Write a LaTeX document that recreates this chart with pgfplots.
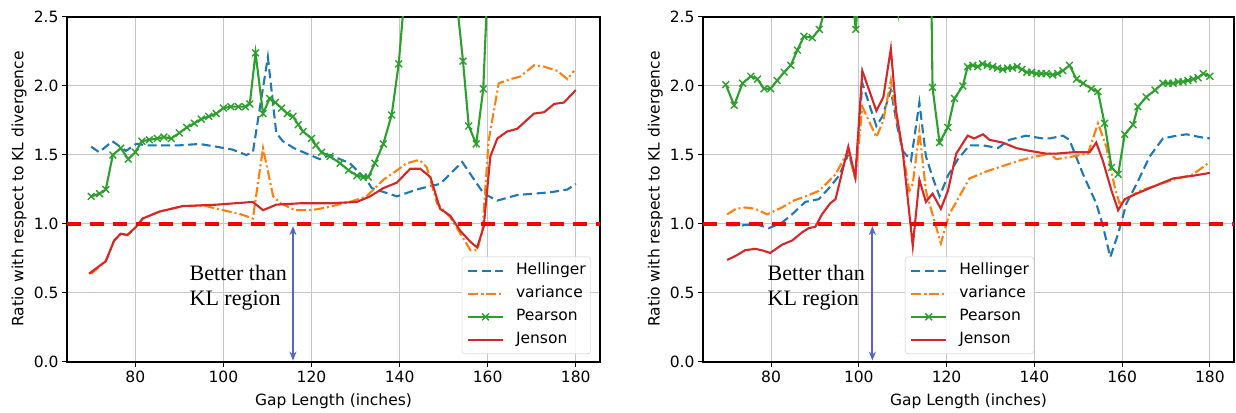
\documentclass[border=0pt]{standalone}
\usepackage{pgfplots}
\pgfplotsset{compat=1.18}
\usepackage{fontspec}
\setmainfont{DejaVu Sans}
\newfontfamily\timesfont{Liberation Serif}
\usetikzlibrary{arrows.meta}
\definecolor{tabblue}{HTML}{1F77B4}
\definecolor{taborange}{HTML}{FF7F0E}
\definecolor{tabgreen}{HTML}{2CA02C}
\definecolor{tabred}{HTML}{D62728}
\definecolor{arrowblue}{RGB}{85,100,200}
\tikzset{
  dbl/.style={<->, >={Stealth[length=9bp,width=7bp]}, color=arrowblue, line width=2bp},
  bt/.style={anchor=base west, inner sep=0bp, font=\timesfont\fontsize{22bp}{25bp}\selectfont},
}
\pgfplotsset{
  myaxis/.style={
    scale only axis, height=345bp,
    xmin=64.5, xmax=185.5, ymin=0, ymax=2.5,
    xtick={80,100,120,140,160,180},
    xticklabels={80,100,120,140,160,180},
    ytick={0,0.5,1,1.5,2,2.5},
    yticklabels={0.0,0.5,1.0,1.5,2.0,2.5},
    tick pos=left, tick align=outside,
    major tick length=5bp,
    tick style={black, line width=1bp},
    grid=major,
    major grid style={gray!45, line width=1bp},
    axis line style={black, line width=1.2bp},
    ticklabel style={font=\fontsize{15.5bp}{18bp}\selectfont},
    clip marker paths=true,
    legend cell align=left,
    legend style={font=\fontsize{15.5bp}{18bp}\selectfont,
      draw=gray!45, rounded corners=3bp, fill=white, fill opacity=0.85, text opacity=1,
      inner xsep=5bp, inner ysep=6bp, row sep=7bp, column sep=12bp,
      nodes={inner sep=0bp, text height=12bp, text depth=4bp}},
    legend image code/.code={\draw[mark repeat=2, mark phase=2, #1] plot coordinates {(0bp,0bp) (17.5bp,0bp) (35bp,0bp)};},
  },
  hell/.style={tabblue, line width=2.1bp, dash pattern=on 9bp off 4.5bp},
  var/.style={taborange, line width=2.1bp, dash pattern=on 10bp off 3bp on 2bp off 3bp},
  pear/.style={tabgreen, line width=2.1bp, mark=x, mark size=4.8bp, mark options={solid, line width=1.4bp}},
  jen/.style={tabred, line width=2.1bp},
  kl/.style={red, line width=3.8bp, dash pattern=on 14bp off 9bp},
}
\begin{document}
\begin{tikzpicture}
\useasboundingbox (-67bp,-51bp) rectangle (1169bp,362bp);
% ---------------- left panel ----------------
\begin{axis}[myaxis, width=533bp, at={(0bp,0bp)}, anchor=south west,
  legend style={at={(0.983,0.023)}, anchor=south east}]
\addplot[hell] coordinates {
(70,1.56) (71.8,1.52) (74.8,1.60) (77.9,1.53) (80.2,1.58) (83,1.57) (86,1.57)
(90,1.57) (94.6,1.58) (98.4,1.56) (102,1.54) (105.2,1.50) (106.7,1.52) (110.1,2.21)
(112,1.66) (113.5,1.60) (116,1.55) (118.9,1.51) (121.9,1.47) (124.2,1.50) (128.7,1.44)
(132.5,1.32) (133.7,1.26) (139.4,1.20) (143.9,1.25) (147.7,1.28) (149.2,1.29)
(154.2,1.45) (159.1,1.22) (162.2,1.17) (166.7,1.21) (174.3,1.23) (178.1,1.25) (180,1.29)};
\addlegendentry{Hellinger}
\addplot[var] coordinates {
(70,0.64) (73.3,0.73) (75.2,0.88) (76.7,0.93) (78.2,0.92) (80.2,0.98) (81.7,1.04)
(85.5,1.09) (90.8,1.13) (96,1.13) (100,1.10) (104,1.07) (106.7,1.04) (109,1.55)
(111.3,1.20) (113,1.15) (115,1.12) (116.2,1.10) (120,1.10) (123.4,1.12) (128.7,1.16)
(132.5,1.20) (136.3,1.32) (139,1.38) (141.6,1.44) (143.9,1.46) (144.7,1.46) (146.2,1.41)
(148.5,1.15) (151.5,1.05) (153.8,0.93) (156.1,0.81) (157.6,0.81) (158.8,0.95) (160.2,1.60)
(162.5,2.02) (165.2,2.05) (167.5,2.07) (170.5,2.15) (172.8,2.14) (175.8,2.11) (178.1,2.05) (179.6,2.11)};
\addlegendentry{variance}
\addplot[pear] coordinates {
(70,1.20) (71.9,1.22) (73.3,1.25) (74.9,1.50) (76.7,1.55) (78.4,1.47) (80,1.52)
(81.5,1.60) (83.2,1.61) (85,1.62) (86.5,1.63) (88.2,1.62) (90,1.66) (91.7,1.70)
(93.4,1.73) (95,1.76) (96.7,1.78) (98.4,1.80) (100,1.84) (101.7,1.85) (103.4,1.85)
(105,1.85) (106,1.87) (107.3,2.24) (109,1.80) (110.5,1.91) (111.8,1.88) (113.2,1.84)
(114.5,1.80) (115.8,1.78) (117,1.72) (118.1,1.67) (120,1.62) (121,1.57) (122.3,1.52)
(124.2,1.49) (126.5,1.44) (128.4,1.39) (130.3,1.35) (131.8,1.34) (132.9,1.34)
(134.4,1.44) (136.3,1.58) (138.2,1.79) (139.8,2.16) (141.5,2.8) (143.2,3.3) (145,3.6)
(147,3.7) (149,3.6) (151,3.3) (152.7,2.7) (154.4,2.18) (155.7,1.71) (157.4,1.58)
(159,1.98) (160.6,3.2) (162.3,3.6) (165,3.8) (170,3.9) (175,3.9) (180,3.9)};
\addlegendentry{Pearson}
\addplot[jen] coordinates {
(69.5,0.64) (73.3,0.73) (75.2,0.88) (76.7,0.93) (78.2,0.92) (80.2,0.98) (81.7,1.04)
(85.5,1.09) (90.8,1.13) (98.4,1.14) (106.7,1.16) (109,1.10) (112,1.14) (117.4,1.15)
(124,1.15) (130.3,1.16) (133.3,1.20) (136.3,1.26) (139.4,1.30) (142.4,1.40) (144.7,1.40)
(147,1.34) (149.2,1.11) (151.5,1.06) (153.8,0.95) (156.1,0.87) (157.6,0.83) (159.1,0.98)
(160.6,1.49) (162.2,1.62) (164.4,1.67) (166.7,1.69) (170.5,1.80) (172.8,1.81)
(175.1,1.87) (177.3,1.88) (180,1.97)};
\addlegendentry{Jenson}
\addplot[kl, forget plot] coordinates {(64.5,1) (185.5,1)};
\draw[dbl] (axis cs:115.8,0.985) -- (axis cs:115.8,0.01);
\node[bt] at (axis cs:92.3,0.594) {Better than};
\node[bt] at (axis cs:92.3,0.413) {KL region};
\end{axis}
% ---------------- right panel ----------------
\begin{axis}[myaxis, width=531bp, at={(636bp,0bp)}, anchor=south west,
  legend style={at={(0.502,0.023)}, anchor=south}]
\addplot[hell] coordinates {
(70.3,0.99) (73.4,0.99) (76.4,1.00) (79.5,0.97) (82.5,1.01) (84.8,1.07) (87.8,1.16)
(90.9,1.18) (93.2,1.26) (95.5,1.35) (97.7,1.51) (99.2,1.34) (100.8,2.02) (104,1.71)
(105.4,1.78) (107.3,1.97) (108.8,1.70) (110,1.53) (111.9,1.46) (113.8,1.88) (115.3,1.49)
(116.8,1.34) (118.4,1.20) (120.3,1.35) (122.6,1.47) (125.2,1.57) (128.3,1.57)
(131.7,1.55) (134.3,1.61) (138.1,1.64) (141.9,1.62) (143.5,1.62) (146.5,1.64) (148,1.61)
(151.1,1.36) (154.1,1.15) (155.6,0.99) (157.3,0.76) (159.1,0.93) (161,1.15) (163.3,1.29)
(166.3,1.49) (169.3,1.62) (172.4,1.64) (174.7,1.65) (177.7,1.63) (180,1.62)};
\addlegendentry{Hellinger}
\addplot[var] coordinates {
(70,1.07) (72,1.11) (74.1,1.12) (76.4,1.11) (79.1,1.07) (82.5,1.12) (85.2,1.17)
(87.8,1.20) (90.9,1.24) (94.7,1.36) (97.6,1.53) (99.2,1.32) (100.8,1.85) (104,1.63)
(105.6,1.75) (107.3,2.04) (108.5,1.78) (110,1.53) (111.5,1.24) (112.3,1.29) (113.8,1.67)
(115.3,1.24) (116.8,1.07) (118.7,0.86) (120.6,1.07) (122.2,1.16) (125.2,1.33) (129,1.38)
(132.8,1.42) (136.6,1.46) (140.4,1.49) (143.5,1.51) (145,1.47) (148.8,1.49) (152.2,1.51)
(154.5,1.73) (156.4,1.56) (158.3,1.27) (159.4,1.15) (160.9,1.18) (164,1.24) (171.6,1.32)
(176.2,1.36) (180,1.45)};
\addlegendentry{variance}
\addplot[pear] coordinates {
(69.7,2.01) (71.6,1.86) (73.5,2.02) (75.4,2.07) (76.9,2.05) (78.4,1.98) (79.9,1.98)
(81.4,2.04) (83,2.10) (84.5,2.15) (86,2.26) (87.5,2.36) (89.4,2.35) (91,2.41)
(92.7,2.6) (94.4,2.9) (96,3.0) (97.6,2.95) (99.3,2.41) (100.9,3.0) (102.6,3.3)
(104.3,3.4) (106,3.2) (107.5,2.9) (109,2.53) (110.6,3.0) (112.3,4.0) (113.9,5.0)
(115.2,6.0) (116.8,1.99) (118.4,1.59) (120.3,1.70) (121.8,1.91) (123.7,2.00)
(124.8,2.14) (126,2.15) (127.1,2.14) (128.2,2.16) (129.3,2.15) (130.5,2.14) (131.6,2.13)
(132.8,2.12) (133.9,2.13) (135,2.13) (136.1,2.14) (137.2,2.12) (138.3,2.10) (139.4,2.10)
(140.5,2.09) (141.6,2.09) (142.7,2.09) (144.2,2.08) (145.3,2.09) (146.5,2.11) (148,2.15)
(149.6,2.05) (151.1,2.02) (153,1.98) (154.5,1.96) (156,1.73) (157.6,1.41) (159.1,1.36)
(160.6,1.65) (162.5,1.72) (163.6,1.85) (165.5,1.92) (167.5,1.97) (169.3,2.02) (170.5,2.02)
(171.6,2.02) (172.8,2.03) (173.9,2.03) (175,2.04) (176.2,2.05) (177.3,2.06) (178.5,2.09) (180,2.07)};
\addlegendentry{Pearson}
\addplot[jen] coordinates {
(70,0.74) (72,0.77) (74.1,0.81) (76.4,0.82) (77.9,0.81) (79.8,0.79) (82.5,0.85)
(84.8,0.88) (87.1,0.94) (88.6,0.97) (90.1,0.98) (91.6,1.07) (93.5,1.15) (94.7,1.18)
(96,1.35) (97.6,1.56) (99.2,1.34) (100.8,2.11) (104,1.82) (105.6,1.92) (107.3,2.27)
(108.5,1.82) (110,1.53) (112.3,0.84) (113.8,1.32) (115.3,1.16) (116.8,1.22) (118.7,1.11)
(120.3,1.24) (122.2,1.51) (124.8,1.64) (126.3,1.62) (128.3,1.65) (129.8,1.61)
(132.8,1.59) (135.9,1.55) (138.9,1.53) (142.7,1.51) (145,1.51) (148.8,1.52) (152.6,1.52)
(154.1,1.59) (155.6,1.46) (157.6,1.24) (159.1,1.10) (160.6,1.18) (163.3,1.22)
(167.8,1.28) (171.6,1.33) (176.2,1.35) (180,1.37)};
\addlegendentry{Jenson}
\addplot[kl, forget plot] coordinates {(64.5,1) (185.5,1)};
\draw[dbl] (axis cs:103.1,0.985) -- (axis cs:103.1,0.01);
\node[bt] at (axis cs:79.2,0.594) {Better than};
\node[bt] at (axis cs:79.2,0.413) {KL region};
\end{axis}
% axis labels
\node[anchor=base, font=\fontsize{15.5bp}{18bp}\selectfont] at (266.5bp,-43.5bp) {Gap Length (inches)};
\node[anchor=base, font=\fontsize{15.5bp}{18bp}\selectfont] at (901.5bp,-43.5bp) {Gap Length (inches)};
\node[anchor=base, rotate=90, font=\fontsize{15.5bp}{18bp}\selectfont] at (-43.5bp,173bp) {Ratio with respect to KL divergence};
\node[anchor=base, rotate=90, font=\fontsize{15.5bp}{18bp}\selectfont] at (592.5bp,173bp) {Ratio with respect to KL divergence};
\end{tikzpicture}
\end{document}
